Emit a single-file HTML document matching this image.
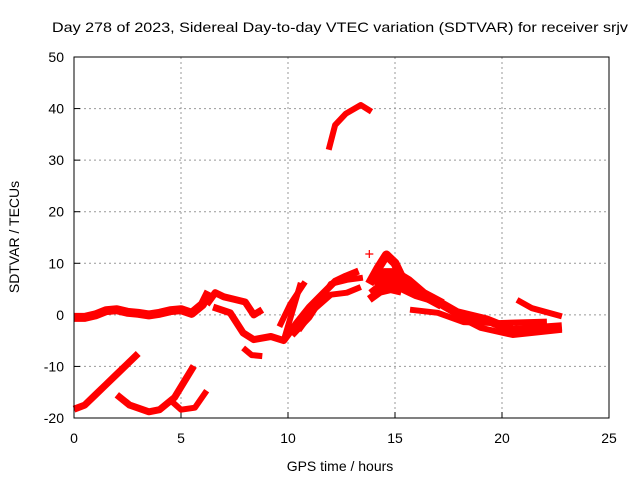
<!DOCTYPE html>
<html><head><meta charset="utf-8"><style>
body{margin:0;background:#fff}
svg{display:block;font-family:"Liberation Sans",sans-serif}
</style></head><body>
<svg id="chart" width="640" height="480" viewBox="0 0 640 480">
<text x="340" y="32" font-size="14" text-anchor="middle" textLength="576" lengthAdjust="spacingAndGlyphs">Day 278 of 2023, Sidereal Day-to-day VTEC variation (SDTVAR) for receiver srjv</text>
<text x="340" y="471" font-size="14" text-anchor="middle">GPS time / hours</text>
<text transform="translate(19,237) rotate(-90)" font-size="14" text-anchor="middle">SDTVAR / TECUs</text>
<g id="grid"></g><g id="ticks"></g><g id="marks"></g>
<rect x="74" y="57" width="535" height="361" fill="none" stroke="#000" stroke-width="1"/>
</svg>
<script>
const xTicks=[0,5,10,15,20,25];
const yTicks=[-20,-10,0,10,20,30,40,50];
const trackHours=[
[0,0.5,1,1.5,2,2.5,3,3.5,4,4.5,5,5.5,6,6.3],
[6.2,6.6,7.0,7.5,8.0,8.4,8.8],
[6.5,7.3,7.9,8.4,9.2,9.8,10.4,11,11.6,12.2,12.7,13.3],
[9.6,10.1,10.8],
[9.8,10.6],
[10.5,11.2,12,12.75,13.4],
[10.2,11,11.7,12,12.75,13.5],
[11.9,12.2,12.7,13.4,13.9],
[0,0.5,1,1.5,2,2.5,3],
[2,2.6,3.5,4,4.7,5.6],
[4.6,5,5.65,6.2],
[7.9,8.3,8.8],
[13.8,14.2,14.6,15.0,15.6,16.6,17.9,19.3,20.5,22.8],
[13.9,14.5,15,15.5,16,16.8],
[15.7,17,18.2,19.8,22.1],
[18,19,20.5,22.8],
[20.7,21.4,22.8],
[14,14.5,15,15.6,16.3,17.2],
[13.8,14.3,14.8,15.3]
];
const trackValues=[
[-0.5,-0.5,0,0.8,1,0.5,0.3,0,0.3,0.8,1,0.3,2,4.5],
[2,4.3,3.5,3,2.5,0,1],
[1.5,0.4,-3.5,-4.8,-4.2,-5,-1.6,1.5,4,6.5,7.5,8.5],
[-2.3,2,6.4],
[-5,6.2],
[-3,1,3.9,4.3,5.4],
[-4,-0.5,4,6,6.8,7.2],
[32,36.8,39,40.7,39.4],
[-18.3,-17.5,-15.5,-13.5,-11.5,-9.5,-7.5],
[-15.5,-17.5,-18.8,-18.4,-16,-9.9],
[-16.9,-18.4,-18,-14.7],
[-6.4,-7.8,-8],
[6,9,11.6,10,4.8,3.5,0.4,-1,-3,-2.3],
[4,6,6,5,4,3],
[1,0.4,-1.4,-1.6,-1.3],
[-0.4,-2.5,-3.9,-2.9],
[2.9,1.3,-0.3],
[6,8,8,6.5,4,2],
[3,4.5,5,4.5]
];
const trackWidths=[9,7,7,6,6,6,6,6,7,7,6,6,9,10,6,6,6,11,8];
const singleHours=[13.8];
const singleValues=[11.8];
const X=h=>74+h*535/25;
const Y=v=>418-(v+20)*361/70;
const NS="http://www.w3.org/2000/svg";
const grid=document.getElementById('grid'),ticks=document.getElementById('ticks'),marks=document.getElementById('marks');
function mk(tag,attrs,parent){const e=document.createElementNS(NS,tag);for(const k in attrs)e.setAttribute(k,attrs[k]);parent.appendChild(e);return e;}
xTicks.forEach(t=>{
  if(t>0&&t<25){const g=mk('line',{x1:X(t),x2:X(t),y1:57,y2:418,stroke:'#999','stroke-dasharray':'2,3'},grid);
  
  }
  const l=mk('line',{x1:X(t),x2:X(t),y1:418,y2:412,stroke:'#000'},ticks);
  
  
  const tx=mk('text',{x:X(t),y:443,'font-size':14,'text-anchor':'middle'},ticks);tx.textContent=t;
  
  
});
yTicks.forEach(t=>{
  if(t>-20&&t<50){const g=mk('line',{x1:74,x2:609,y1:Y(t),y2:Y(t),stroke:'#999','stroke-dasharray':'2,3'},grid);
  
  }
  const l=mk('line',{x1:74,x2:80,y1:Y(t),y2:Y(t),stroke:'#000'},ticks);
  
  
  const tx=mk('text',{x:64,y:Y(t)+5,'font-size':14,'text-anchor':'end'},ticks);tx.textContent=t;
  
  
});
trackHours.forEach((hs,i)=>{
  const pts=hs.map((h,j)=>X(h).toFixed(1)+','+Y(trackValues[i][j]).toFixed(1)).join(' ');
  const p=mk('polyline',{points:pts,fill:'none',stroke:'#f00','stroke-width':trackWidths[i],'stroke-linejoin':'round','stroke-linecap':'butt'},marks);
  
  
});
singleHours.forEach((h,i)=>{
  const x=X(h),y=Y(singleValues[i]);
  const p=mk('path',{d:`M${x-4} ${y}H${x+4}M${x} ${y-4}V${y+4}`,stroke:'#f00','stroke-width':1.2},marks);
  
  
});
</script>
</body></html>
